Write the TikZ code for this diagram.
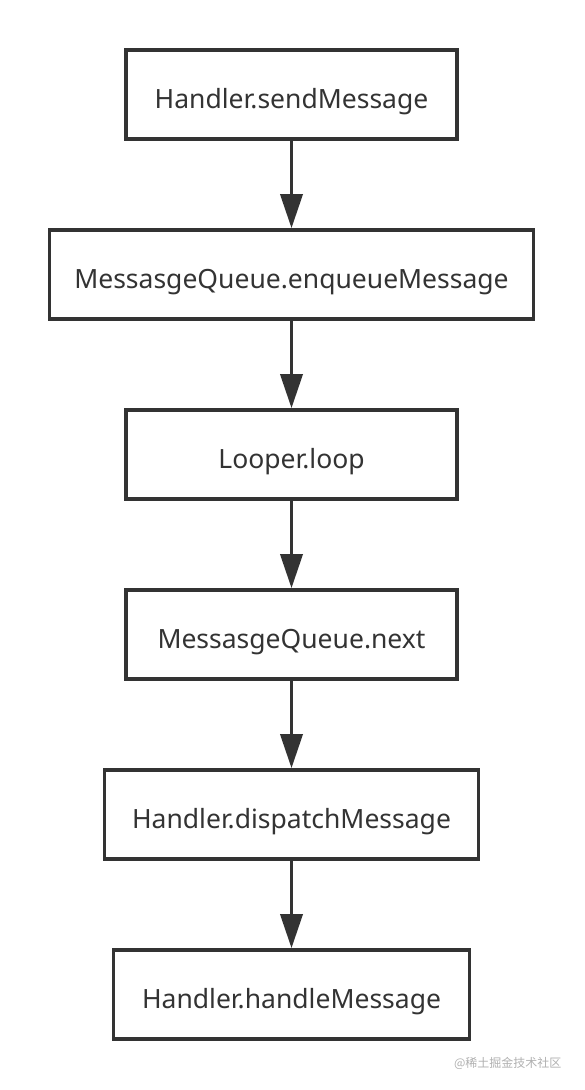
\documentclass[tikz,border=0pt]{standalone}
\usepackage{fontspec}
\setmainfont{Noto Sans}
\newfontfamily\cjkfont{Noto Sans CJK SC}
\usetikzlibrary{arrows.meta, positioning}
\definecolor{ink}{HTML}{333333}
\definecolor{mark}{HTML}{B0B0B0}

\begin{document}
\begin{tikzpicture}[
  x=1pt, y=1pt,
  node distance=87.4pt,
  stepbox/.style={draw=ink, line width=3.6pt, fill=white, text=ink,
                  font=\fontsize{26.5}{30}\selectfont,
                  text height=32pt, text depth=4pt,
                  minimum height=89pt, minimum width=331pt, inner sep=0pt},
  arr/.style={-{Triangle[length=34pt, width=22pt]}, line width=3.6pt, draw=ink}
]
\useasboundingbox (0,0) rectangle (584,-1090);

\node[stepbox] (send) at (291.5,-94.5) {Handler.sendMessage};
\node[stepbox, minimum width=484pt, below=of send] (enqueue) {MessasgeQueue.enqueueMessage};
\node[stepbox, below=of enqueue] (loop) {Looper.loop};
\node[stepbox, below=of loop] (next) {MessasgeQueue.next};
\node[stepbox, minimum width=374pt, below=of next] (dispatch) {Handler.dispatchMessage};
\node[stepbox, minimum width=356pt, below=of dispatch] (handle) {Handler.handleMessage};

% edges
\draw[arr] (send) -- (enqueue);
\draw[arr] (enqueue) -- (loop);
\draw[arr] (loop) -- (next);
\draw[arr] (next) -- (dispatch);
\draw[arr] (dispatch) -- (handle);

\node[text=mark, font=\cjkfont\fontsize{12}{14}\selectfont, anchor=east]
  (wm) at (565,-1063) {@稀土掘金技术社区};

\end{tikzpicture}
\end{document}
